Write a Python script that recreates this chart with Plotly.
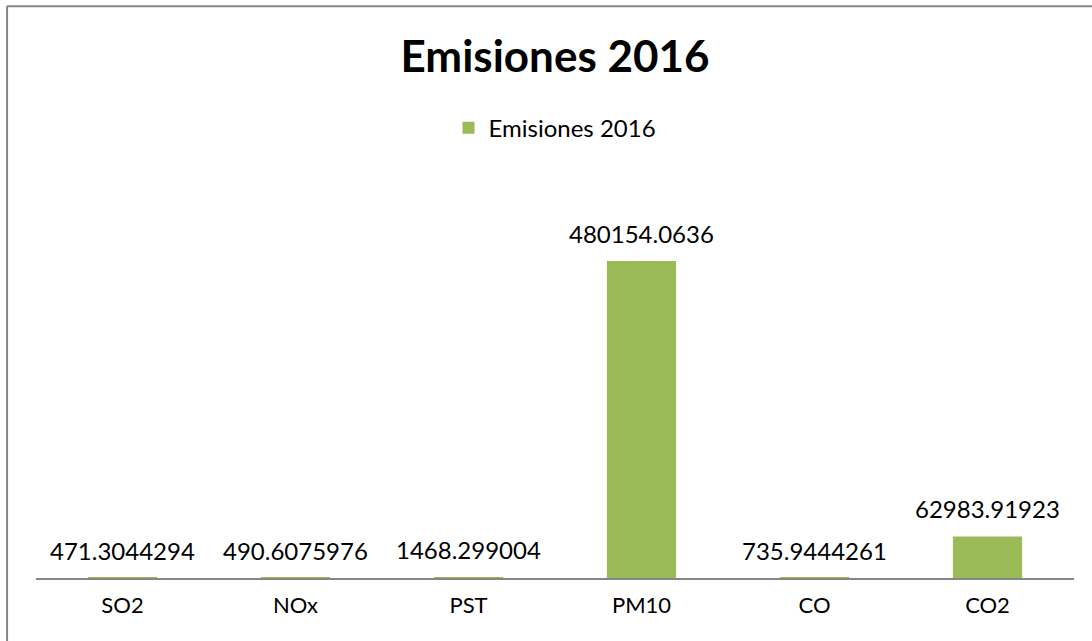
"""Gráfica de emisiones 2016 por contaminante."""
import plotly.graph_objects as go

CATEGORIAS = ["SO2", "NOx", "PST", "PM10", "CO", "CO2"]
EMISIONES_2016 = [471.3044294, 490.6075976, 1468.299004, 480154.0636, 735.9444261, 62983.91923]
SERIE = "Emisiones 2016"

VERDE = "#9BBB59"
GRIS = "#868686"
FUENTE = "Lato, 'Open Sans', sans-serif"

fig = go.Figure(
    go.Bar(
        x=CATEGORIAS, y=EMISIONES_2016, name=SERIE,
        marker=dict(color=VERDE, line=dict(width=0)),
    )
)
# etiquetas de datos encima de cada barra
for cat, val in zip(CATEGORIAS, EMISIONES_2016):
    fig.add_annotation(
        x=cat, y=val, text=f"{val:.10g}", showarrow=False,
        yanchor="bottom", yshift=11, font=dict(size=24, color="#000000"),
    )
fig.update_layout(
    width=1092, height=641,
    margin=dict(l=36, r=18, t=182, b=63),
    paper_bgcolor="white", plot_bgcolor="white",
    font=dict(family=FUENTE, color="#000000"),
    title=dict(
        text="<b>Emisiones 2016</b>", x=0.5, xref="paper", xanchor="center",
        y=1 - 57 / 641, yanchor="middle", font=dict(size=44),
    ),
    showlegend=True,
    legend=dict(
        orientation="h", x=0.5, xanchor="center", y=1.136, yanchor="middle",
        font=dict(size=24), itemsizing="constant",
    ),
    bargap=0.6,
    shapes=[
        dict(type="line", xref="paper", yref="paper", x0=-0.0279, x1=1.2, y0=1.444, y1=1.444,
             line=dict(color=GRIS, width=2)),
        dict(type="line", xref="paper", yref="paper", x0=-0.0279, x1=-0.0279, y0=-0.4, y1=1.444,
             line=dict(color=GRIS, width=2)),
    ],
)
fig.update_xaxes(
    showline=True, linecolor=GRIS, linewidth=2, showgrid=False,
    ticks="outside", ticklen=7, tickcolor="rgba(0,0,0,0)",
    tickfont=dict(size=22),
)
fig.update_yaxes(visible=False, range=[0, 600000], showgrid=False)

fig.write_html(
    "out.html", config={"displayModeBar": False},
    post_script=(
        "document.body.style.margin = '0';"
        "document.body.style.overflow = 'hidden';"
        "document.documentElement.style.overflow = 'hidden';"
    ),
)
